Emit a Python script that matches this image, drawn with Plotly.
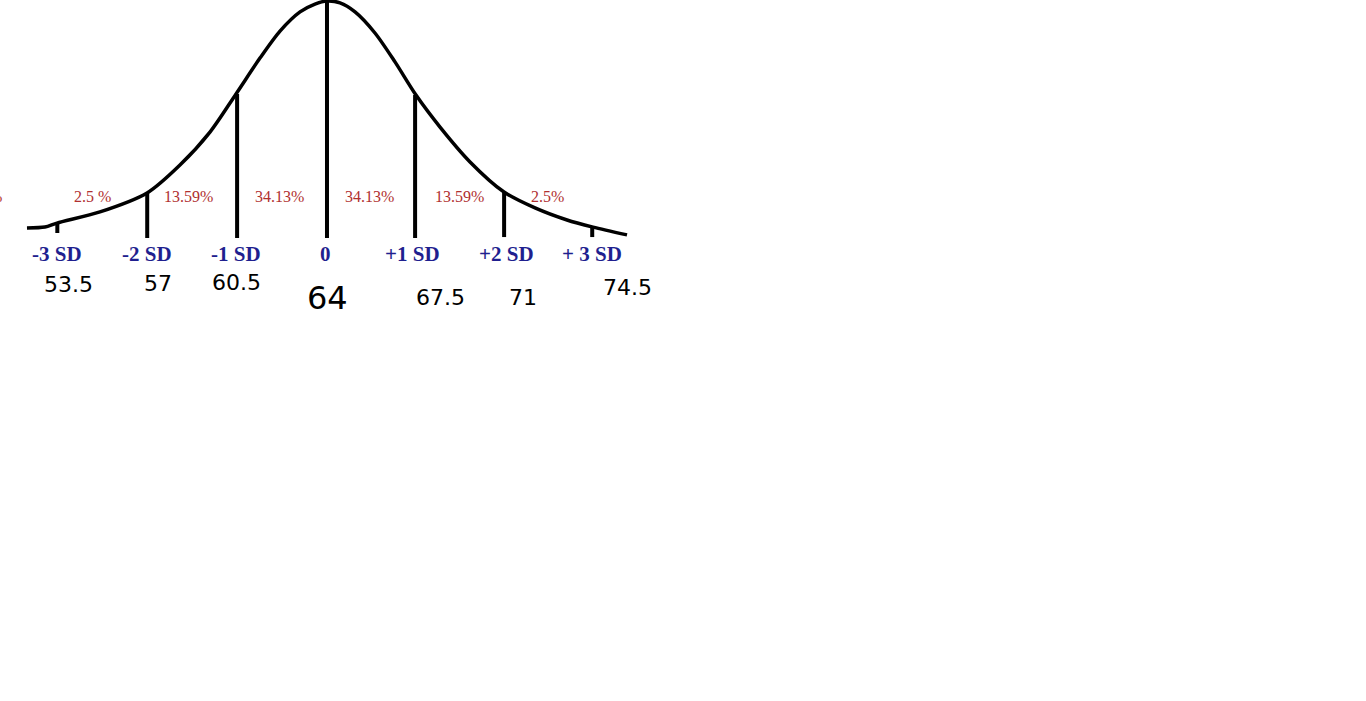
import plotly.graph_objects as go

# Bell curve: x in standard deviations, y as share of peak height
curve_sd = [-3.371, -3.169, -3.034, -2.551, -2.022, -1.652, -1.315, -1.022, -0.753, -0.528,
            -0.303, -0.135, 0.0, 0.146, 0.315, 0.539, 0.764, 1.0, 1.27, 1.607,
            1.989, 2.337, 2.697, 2.989, 3.371]
curve_height = [0.042, 0.046, 0.063, 0.110, 0.190, 0.308, 0.447, 0.608, 0.759, 0.873,
                0.954, 0.987, 1.0, 0.992, 0.954, 0.865, 0.743, 0.603, 0.468, 0.321,
                0.194, 0.127, 0.076, 0.046, 0.013]

# Marker lines at each SD
sd_marks = [-3.03, -2.02, -1.01, 0.0, 0.99, 1.99, 2.98]
mark_top = [0.063, 0.190, 0.608, 1.0, 0.603, 0.194, 0.046]
mark_bottom = [0.021, 0.0, 0.0, 0.0, 0.0, 0.004, 0.004]

sd_labels = ["-3 SD", "-2 SD", "-1 SD", "0", "+1 SD", "+2 SD", "+ 3 SD"]
sd_label_x = [-3.03, -2.02, -1.02, -0.02, 0.96, 2.02, 2.98]

pct_labels = ["0.13%", "2.5 %", "13.59%", "34.13%", "34.13%", "13.59%", "2.5%"]
pct_x = [-3.63, -2.63, -1.56, -0.53, 0.48, 1.49, 2.48]

value_labels = ["53.5", "57", "60.5", "64", "67.5", "71", "74.5"]
value_x = [-2.90, -1.90, -1.02, 0.01, 1.27, 2.20, 3.38]
value_y = [-0.198, -0.190, -0.186, -0.253, -0.249, -0.249, -0.207]

fig = go.Figure()

# vertical SD lines
xs, ys = [], []
for x, top, bot in zip(sd_marks, mark_top, mark_bottom):
    xs += [x, x, None]
    ys += [bot, top, None]
fig.add_trace(go.Scatter(x=xs, y=ys, mode="lines",
                         line=dict(color="black", width=4), hoverinfo="skip"))

# the curve itself
fig.add_trace(go.Scatter(x=curve_sd, y=curve_height, mode="lines",
                         line=dict(color="black", width=3.5, shape="spline", smoothing=0.8),
                         hoverinfo="skip"))

for i, txt in enumerate(pct_labels):
    fig.add_annotation(x=pct_x[i], y=0.173, text=txt, showarrow=False,
                       xanchor="right" if i == 0 else "center",
                       font=dict(family="Liberation Serif", size=16, color="#b03030"))

for txt, x in zip(sd_labels, sd_label_x):
    fig.add_annotation(x=x, y=-0.0675, text="<b>" + txt + "</b>", showarrow=False,
                       font=dict(family="Liberation Serif", size=21, color="#1f1f8f"))

for txt, x, y in zip(value_labels, value_x, value_y):
    fig.add_annotation(x=x, y=y, text=txt, showarrow=False,
                       font=dict(family="DejaVu Sans", size=32 if txt == "64" else 22,
                                 color="black"))

# axis ranges chosen so 1 SD ~ 89 px, centre at x=327 px, baseline at y=238 px
fig.update_layout(
    width=1366, height=701,
    margin=dict(l=0, r=0, t=0, b=0),
    paper_bgcolor="white", plot_bgcolor="white",
    showlegend=False,
    xaxis=dict(range=[-3.674, 11.674], visible=False, fixedrange=True),
    yaxis=dict(range=[-1.9536, 1.0042], visible=False, fixedrange=True),
)

# drop the browser's default body margin so the figure sits at the page corner
fig.write_html("out.html", config={"displayModeBar": False},
               post_script="document.body.style.margin='0';")
